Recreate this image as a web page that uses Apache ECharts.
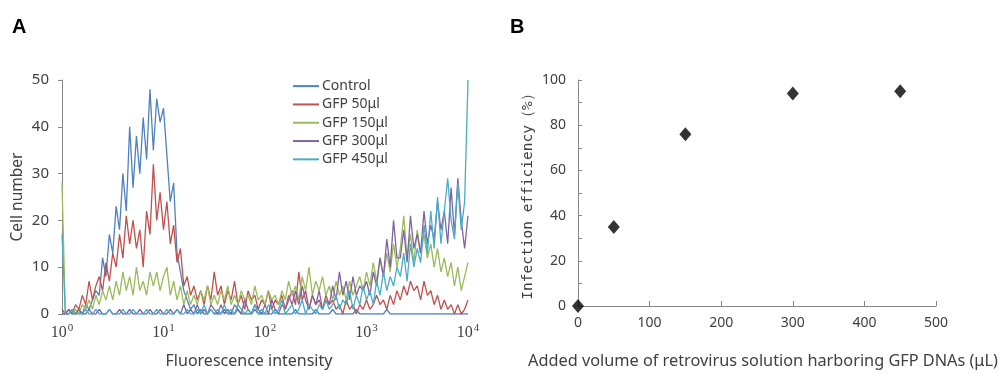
<!DOCTYPE html>
<html>
<head>
<meta charset="utf-8">
<script src="https://cdn.jsdelivr.net/npm/echarts@6/dist/echarts.min.js"></script>
<style>
  html, body { margin: 0; padding: 0; background: #fff; }
  #chart { width: 1003px; height: 374px; }
</style>
</head>
<body>
<div id="chart"></div>
<script>
// Panel A: flow cytometry histograms, 30 channels per decade (10^0 .. 10^4)
const seriesNames = ['Control', 'GFP 50\u03bcl', 'GFP 150\u03bcl', 'GFP 300\u03bcl', 'GFP 450\u03bcl'];
const seriesColors = ['#4F81BD', '#C0504D', '#9BBB59', '#8064A2', '#4BACC6'];
const channelsPerDecade = 30;
const decadeLabels = ['0', '1', '2', '3', '4'];

const control = [
  0, 0, 0, 1, 0, 1, 0, 2, 1, 3,
  5, 4, 12, 8, 17, 13, 23, 18, 30, 22,
  40, 27, 38, 30, 42, 33, 48, 35, 46, 41,
  44, 34, 24, 28, 13, 9, 5, 3, 1, 2,
  0, 1, 0, 0, 1, 0, 0, 0, 1, 0,
  0, 0, 1, 0, 0, 0, 0, 1, 0, 0,
  0, 0, 0, 1, 0, 0, 0, 0, 0, 1,
  0, 0, 0, 0, 0, 1, 0, 0, 0, 0,
  1, 0, 0, 0, 0, 0, 0, 1, 0, 0,
  0, 0, 0, 0, 0, 0, 1, 0, 0, 0,
  0, 0, 0, 0, 0, 0, 0, 0, 0, 0,
  0, 0, 0, 0, 0, 0, 0, 0, 0, 0,
  0
];
const gfp50 = [
  1, 0, 1, 0, 2, 1, 4, 2, 7, 3,
  6, 8, 5, 11, 7, 13, 10, 17, 12, 21,
  15, 20, 14, 18, 10, 22, 17, 32, 20, 26,
  18, 24, 15, 19, 11, 14, 6, 8, 4, 6,
  3, 5, 2, 6, 3, 9, 4, 6, 2, 5,
  3, 7, 2, 4, 1, 5, 3, 4, 1, 3,
  2, 5, 1, 3, 2, 4, 1, 3, 5, 2,
  9, 3, 5, 1, 4, 2, 3, 1, 4, 2,
  3, 1, 2, 0, 3, 1, 2, 0, 2, 1,
  3, 1, 2, 4, 2, 3, 1, 4, 2, 5,
  3, 6, 4, 7, 5, 6, 3, 7, 4, 5,
  2, 4, 1, 3, 1, 2, 0, 2, 0, 1,
  3
];
const gfp150 = [
  28, 0, 1, 0, 1, 0, 2, 1, 3, 1,
  4, 2, 5, 3, 6, 3, 7, 4, 9, 5,
  8, 4, 10, 5, 7, 4, 9, 6, 9, 5,
  8, 10, 4, 7, 3, 6, 2, 5, 2, 4,
  2, 5, 3, 6, 2, 4, 2, 5, 3, 6,
  2, 4, 2, 5, 3, 4, 2, 6, 3, 4,
  2, 5, 3, 4, 2, 5, 3, 7, 4, 6,
  3, 8, 5, 10, 4, 7, 5, 8, 4, 6,
  3, 7, 4, 6, 3, 7, 4, 6, 8, 5,
  9, 6, 11, 7, 12, 8, 13, 9, 15, 10,
  14, 21, 12, 17, 11, 18, 13, 17, 12, 15,
  10, 14, 9, 12, 8, 11, 6, 10, 5, 8,
  11
];
const gfp300 = [
  0, 0, 1, 0, 0, 1, 0, 0, 1, 0,
  0, 1, 0, 0, 1, 0, 0, 1, 0, 0,
  1, 0, 0, 1, 0, 0, 1, 0, 0, 1,
  0, 0, 1, 0, 1, 0, 2, 0, 1, 0,
  2, 0, 1, 0, 2, 1, 0, 2, 0, 1,
  0, 2, 1, 0, 3, 1, 0, 2, 1, 0,
  2, 0, 3, 1, 0, 2, 1, 4, 2, 5,
  2, 6, 3, 1, 4, 2, 5, 1, 3, 2,
  6, 3, 9, 4, 7, 3, 8, 4, 6, 5,
  7, 4, 9, 6, 12, 8, 16, 10, 20, 12,
  12, 18, 11, 21, 14, 17, 13, 22, 15, 19,
  16, 24, 18, 22, 15, 27, 17, 29, 20, 14,
  21
];
const gfp450 = [
  17, 0, 0, 1, 0, 0, 0, 1, 0, 0,
  1, 0, 0, 0, 1, 0, 0, 0, 1, 0,
  0, 1, 0, 0, 0, 1, 0, 0, 1, 0,
  0, 1, 0, 0, 1, 0, 0, 1, 0, 0,
  1, 0, 2, 0, 1, 0, 1, 0, 2, 0,
  1, 0, 2, 1, 0, 1, 0, 2, 0, 1,
  0, 2, 1, 0, 1, 3, 0, 1, 2, 0,
  1, 3, 0, 2, 1, 0, 2, 1, 3, 1,
  2, 4, 1, 3, 2, 5, 1, 4, 2, 6,
  3, 5, 2, 7, 4, 9, 5, 8, 6, 10,
  8, 13, 7, 15, 10, 14, 11, 19, 13, 22,
  14, 25, 15, 22, 29, 20, 16, 28, 18, 24,
  50
];
const histograms = [control, gfp50, gfp150, gfp300, gfp450];

// Panel B: infection efficiency
const volumes = [0, 50, 150, 300, 450];
const efficiency = [0, 35, 76, 94, 95];

const chart = echarts.init(document.getElementById('chart'));
const textColor = '#404040';
const axisGray = '#868686';

const histSeries = histograms.map((vals, k) => ({
  name: seriesNames[k],
  type: 'line',
  xAxisIndex: 0,
  yAxisIndex: 0,
  symbol: 'none',
  showSymbol: false,
  lineStyle: { width: 1.3, color: seriesColors[k] },
  itemStyle: { color: seriesColors[k] },
  data: vals.map((v, i) => [i, v]),
}));

const option = {
  animation: false,
  backgroundColor: '#fff',
  graphic: [
    { type: 'text', left: 12, top: 17, style: { text: 'A', font: 'bold 20px "Liberation Sans"', fill: '#000' } },
    { type: 'text', left: 510, top: 17, style: { text: 'B', font: 'bold 20px "Liberation Sans"', fill: '#000' } },
  ],
  legend: {
    data: seriesNames,
    orient: 'vertical',
    left: 293,
    top: 77,
    padding: 0,
    icon: 'rect',
    itemWidth: 26,
    itemHeight: 2,
    itemGap: 0,
    textStyle: { fontFamily: 'Noto Sans', fontSize: 14, color: textColor, lineHeight: 18.3, padding: [0, 0, 0, -2] },
  },
  grid: [
    { left: 62, top: 80, width: 406, height: 235 },
    { left: 578, top: 80, width: 358, height: 228 },
  ],
  xAxis: [
    {
      gridIndex: 0,
      type: 'value',
      min: 0,
      max: channelsPerDecade * 4,
      interval: channelsPerDecade,
      axisLine: { show: false },
      axisTick: { show: false },
      splitLine: { show: false },
      axisLabel: {
        margin: 9,
        formatter: (v) => '{b|10}{s|' + decadeLabels[Math.round(v / channelsPerDecade)] + '}',
        rich: {
          b: { fontFamily: 'Liberation Serif', fontSize: 16, color: textColor, lineHeight: 18, verticalAlign: 'bottom' },
          s: { fontFamily: 'Liberation Serif', fontSize: 11, color: textColor, lineHeight: 18, verticalAlign: 'top', padding: [0, 0, 0, 1] },
        },
      },
      name: 'Fluorescence intensity',
      nameLocation: 'middle',
      nameGap: 39,
      nameTextStyle: { fontFamily: 'Noto Sans', fontSize: 16, color: textColor, padding: [0, 32, 0, 0] },
    },
    {
      gridIndex: 1,
      type: 'value',
      min: 0,
      max: 500,
      interval: 100,
      axisLine: { lineStyle: { color: axisGray, width: 1 } },
      axisTick: { inside: true, length: 5, lineStyle: { color: axisGray } },
      splitLine: { show: false },
      axisLabel: { margin: 10, fontFamily: 'Noto Sans', fontSize: 14, color: textColor },
      name: 'Added volume of retrovirus solution harboring GFP DNAs (\u03bcL)',
      nameLocation: 'middle',
      nameGap: 47,
      nameTextStyle: { fontFamily: 'Noto Sans', fontSize: 16.3, color: textColor, padding: [0, 0, 0, 12] },
    },
  ],
  yAxis: [
    {
      gridIndex: 0,
      type: 'value',
      min: 0,
      max: 50,
      interval: 10,
      axisLine: { show: true, lineStyle: { color: axisGray, width: 1 } },
      axisTick: { show: true, length: 4, lineStyle: { color: axisGray } },
      splitLine: { show: false },
      axisLabel: { margin: 13, fontFamily: 'Noto Sans', fontSize: 15, color: textColor },
      name: 'Cell number',
      nameLocation: 'middle',
      nameGap: 36,
      nameTextStyle: { fontFamily: 'Noto Sans', fontSize: 15.5, color: textColor },
    },
    {
      gridIndex: 1,
      type: 'value',
      min: 0,
      max: 100,
      interval: 20,
      axisLine: { show: true, lineStyle: { color: axisGray, width: 1 } },
      axisTick: { show: true, inside: true, length: 4, lineStyle: { color: axisGray } },
      minorTick: { show: true, splitNumber: 2, length: 4, lineStyle: { color: axisGray } },
      splitLine: { show: false },
      axisLabel: { margin: 12, fontFamily: 'Noto Sans', fontSize: 14, color: textColor },
      name: 'Infection efficiency\uff08%\uff09',
      nameLocation: 'middle',
      nameGap: 42,
      nameTextStyle: { fontFamily: 'DejaVu Sans Mono', fontSize: 14.5, color: textColor },
    },
  ],
  series: histSeries.concat([
    {
      name: 'Infection efficiency',
      type: 'scatter',
      xAxisIndex: 1,
      yAxisIndex: 1,
      symbol: 'diamond',
      symbolSize: [12, 14],
      clip: false,
      itemStyle: { color: '#000' },
      data: volumes.map((v, i) => [v, efficiency[i]]),
    },
  ]),
};

chart.setOption(option);
</script>
</body>
</html>
